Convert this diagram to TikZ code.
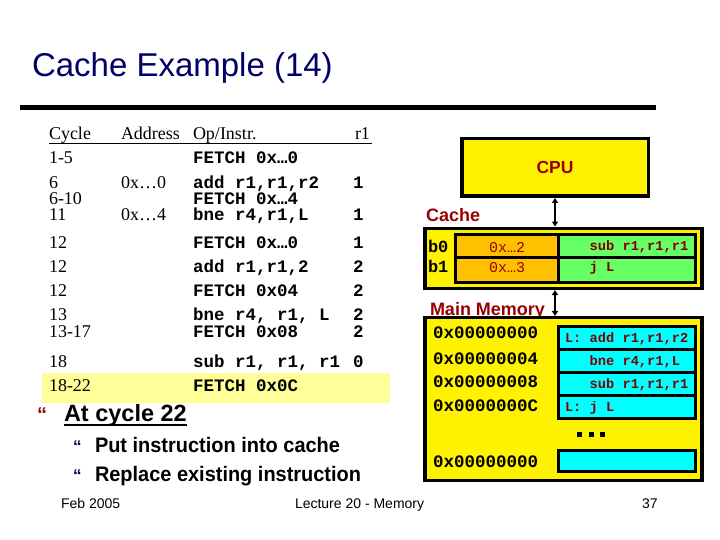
\documentclass[tikz,border=0pt]{standalone}
\usepackage{fontspec}
\setmainfont{Liberation Serif}
\newfontfamily\arialf{Liberation Sans}
\newfontfamily\arialn[FakeStretch=0.95]{Liberation Sans}
\newfontfamily\courf{Liberation Mono}
\usetikzlibrary{arrows.meta}
\definecolor{navy}{HTML}{000066}
\definecolor{dred}{HTML}{990000}
\definecolor{mred}{HTML}{800000}
\definecolor{cellorange}{HTML}{FFC000}
\definecolor{cellgreen}{HTML}{66FF66}
\definecolor{cellcyan}{HTML}{00FFFF}
\definecolor{hl}{HTML}{FFFF99}
\newcommand\myfs[1]{\fontsize{#1}{#1}\selectfont}
\begin{document}
\begin{tikzpicture}[x=1pt,y=-1pt,
  txt/.style={anchor=base west, inner sep=0pt, outer sep=0pt},
  serif/.style={txt, font={\myfs{18}}},
  mono/.style={txt, font={\courf\bfseries\myfs{17.5}}},
  small/.style={txt, font={\courf\bfseries\myfs{13.7}}, text=mred},
  unitbox/.style={draw=black, line width=3.5pt, fill=yellow, inner sep=0pt},
  cellline/.style={draw=black, line width=3pt},
  dbl/.style={line width=2.5pt, {Triangle[length=5pt,width=6pt]}-{Triangle[length=5pt,width=6pt]}},
  lbl/.style={txt, font={\arialf\bfseries\myfs{18}}, text=dred}]
\useasboundingbox (0,0) rectangle (720,540);
\fill[white] (0,0) rectangle (720,540);

% title
\node[txt, font={\arialf\myfs{33}}, text=navy] (title) at (32,77) {Cache Example (14)};
\fill[black] (20,105) rectangle (656,110);

% highlight
\fill[hl] (42,373) rectangle (390,403);

% table header
\node[serif] (hc) at (49,140) {Cycle};
\node[serif] (ha) at (121,140) {Address};
\node[serif] (ho) at (193,140) {Op/Instr.};
\node[serif] (hr) at (355,140) {r1};
\draw[line width=1pt] (49,144) -- (372,144);

% rows
\node[serif] (c1) at (49,164) {1-5};
\node[mono]  (o1) at (193,164) {FETCH 0x…0};
\node[serif] (c2) at (49,189) {6};
\node[serif] (a2) at (121,189) {0x…0};
\node[mono]  (o2) at (193,189) {add r1,r1,r2};
\node[mono]  (r2) at (353,189) {1};
\node[serif] (c3) at (49,205) {6-10};
\node[mono]  (o3) at (193,205) {FETCH 0x…4};
\node[serif] (c4) at (49,221) {11};
\node[serif] (a4) at (121,221) {0x…4};
\node[mono]  (o4) at (193,221) {bne r4,r1,L};
\node[mono]  (r4) at (353,221) {1};
\node[serif] (c5) at (49,248) {12};
\node[mono]  (o5) at (193,248) {FETCH 0x…0};
\node[mono]  (r5) at (353,248) {1};
\node[serif] (c6) at (49,272) {12};
\node[mono]  (o6) at (193,272) {add r1,r1,2};
\node[mono]  (r6) at (353,272) {2};
\node[serif] (c7) at (49,296) {12};
\node[mono]  (o7) at (193,296) {FETCH 0x04};
\node[mono]  (r7) at (353,296) {2};
\node[serif] (c8) at (49,320) {13};
\node[mono]  (o8) at (193,320) {bne r4, r1, L};
\node[mono]  (r8) at (353,320) {2};
\node[serif] (c9) at (49,337) {13-17};
\node[mono]  (o9) at (193,337) {FETCH 0x08};
\node[mono]  (r9) at (353,337) {2};
\node[serif] (c10) at (49,367) {18};
\node[mono]  (o10) at (193,367) {sub r1, r1, r1};
\node[mono]  (r10) at (353,367) {0};
\node[serif] (c11) at (49,391) {18-22};
\node[mono]  (o11) at (193,391) {FETCH 0x0C};

% bullets
\node[txt, font={\arialf\bfseries\myfs{20}}, text=dred] (b1) at (37,421) {“};
\node[txt, font={\arialf\bfseries\myfs{23.5}}] (b1t) at (64,421) {At cycle 22};
\draw[line width=1.5pt] (64,425) -- (b1t.east |- 0,425);
\node[txt, font={\arialf\bfseries\myfs{17}}, text=navy] (b2) at (73,452) {“};
\node[txt, font={\arialn\bfseries\myfs{21}}] (b2t) at (95,452) {Put instruction into cache};
\node[txt, font={\arialf\bfseries\myfs{17}}, text=navy] (b3) at (73,481) {“};
\node[txt, font={\arialn\bfseries\myfs{21}}] (b3t) at (95,481) {Replace existing instruction};

% footer
\node[txt, font={\arialf\myfs{14}}] (f1) at (61,508) {Feb 2005};
\node[txt, font={\arialf\myfs{14}}] (f2) at (295,508) {Lecture 20 - Memory};
\node[txt, font={\arialf\myfs{14}}] (f3) at (642,508) {37};

% CPU
\node[unitbox, minimum width=186.5pt, minimum height=57.5pt,
      font={\arialf\bfseries\myfs{17.5}}, text=dred] (cpu) at (555,167.5) {CPU};

% cache
\node[lbl] (cachelbl) at (426,222) {Cache};
\node[unitbox, minimum width=277pt, minimum height=60pt] (cache) at (563.5,258.3) {};
\fill[cellorange] (455,234) rectangle (558,282);
\fill[cellgreen] (558,234) rectangle (695,282);
\draw[cellline] (455,234) rectangle (695,282);
\draw[cellline] (558,234) -- (558,282);
\draw[cellline] (455,257) -- (695,257);
\node[txt, font={\courf\bfseries\myfs{17}}] (b0) at (428,252) {b0};
\node[txt, font={\courf\bfseries\myfs{17}}] (b1l) at (428,272) {b1};
\node[txt, font={\courf\myfs{15}}, text=dred] (tag0) at (489,252) {0x…2};
\node[txt, font={\courf\myfs{15}}, text=dred] (tag1) at (489,272) {0x…3};
\node[small] (d0) at (565,251) {\ \ \ sub r1,r1,r1};
\node[small] (d1) at (565,271) {\ \ \ j L};

% main memory
\node[lbl] (memlbl) at (430,315) {Main Memory};
\node[unitbox, minimum width=277pt, minimum height=162.6pt] (mem) at (563.5,399) {};
\foreach \ya/\yb in {326.5/349.5, 349.5/372.5, 372.5/395.5, 395.5/418.5, 450/471.5}
  \draw[cellline, fill=cellcyan] (558,\ya) rectangle (695,\yb);
\node[mono] (m0) at (433,338) {0x00000000};
\node[mono] (m1) at (433,364) {0x00000004};
\node[mono] (m2) at (433,387) {0x00000008};
\node[mono] (m3) at (433,411) {0x0000000C};
\node[mono] (m4) at (433,467) {0x00000000};
\node[small] (i0) at (565,342) {L: add r1,r1,r2};
\node[small] (i1) at (565,365) {\ \ \ bne r4,r1,L};
\node[small] (i2) at (565,388) {\ \ \ sub r1,r1,r1};
\node[small] (i3) at (565,411) {L: j L};
\foreach \xx in {577,588.5,600}
  \fill[black] (\xx,432) rectangle ++(5,5);

% connectors
\draw[dbl] (cpu.south) -- (cpu.south |- cache.north);
\draw[dbl] (cache.south -| cpu.south) -- (cpu.south |- mem.north);
\end{tikzpicture}
\end{document}
